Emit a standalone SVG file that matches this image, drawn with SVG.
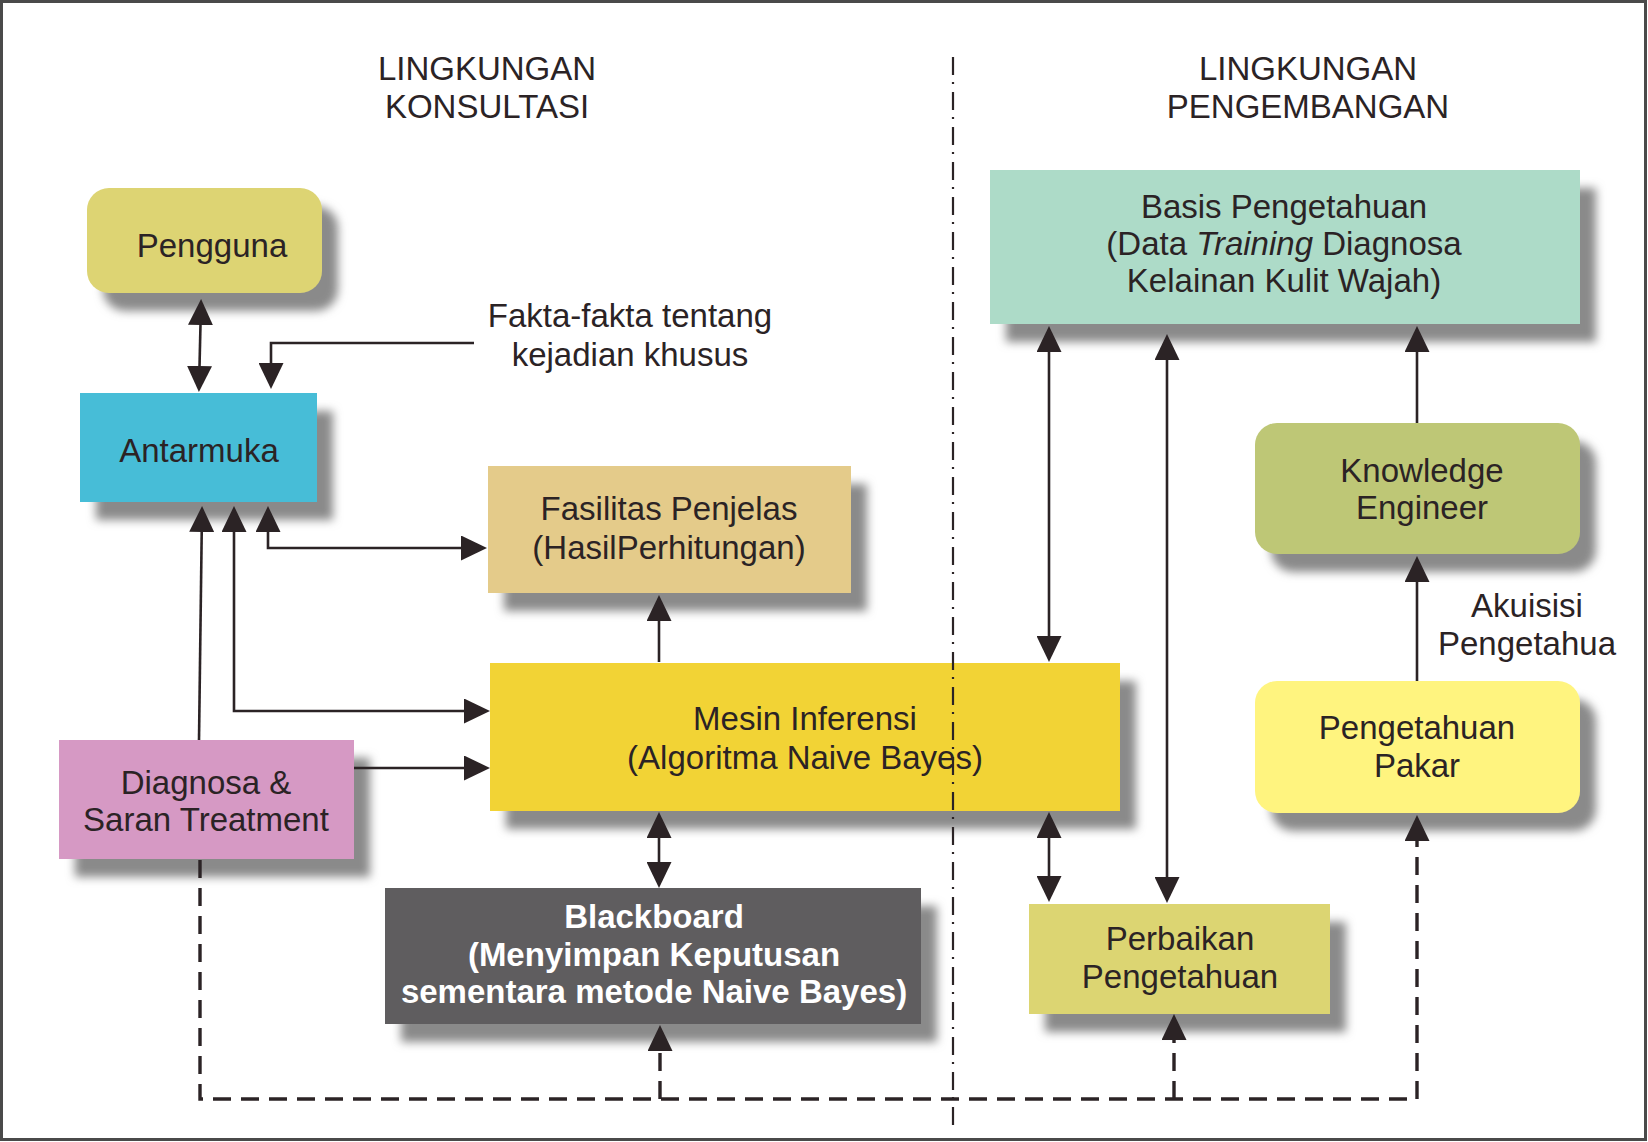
<svg xmlns="http://www.w3.org/2000/svg" width="1648" height="1142" viewBox="0 0 1648 1142">
<style>
text{font-family:"Liberation Sans",Arial,Helvetica,sans-serif;font-size:33px;fill:#2b2325;text-anchor:middle}
.w{fill:#ffffff;font-weight:bold}
.ln{fill:none;stroke:#2b2325;stroke-width:2.6}
.dash{fill:none;stroke:#2b2325;stroke-width:3.4;stroke-dasharray:18 10}
.a{marker-end:url(#ah)}
.aa{marker-end:url(#ah);marker-start:url(#ah)}
.node{filter:url(#sh)}
</style>
<defs>
<filter id="sh" x="-10%" y="-10%" width="130%" height="140%">
<feGaussianBlur in="SourceAlpha" stdDeviation="5"/>
<feOffset dx="16" dy="18" result="b"/>
<feFlood flood-color="#8a8a8a"/>
<feComposite in2="b" operator="in"/>
<feMerge><feMergeNode/><feMergeNode in="SourceGraphic"/></feMerge>
</filter>
<marker id="ah" viewBox="0 0 26 25" markerUnits="userSpaceOnUse" markerWidth="26" markerHeight="25" refX="22" refY="12.5" orient="auto-start-reverse">
<path d="M0,0 L26,12.5 L0,25 z" fill="#2b2325"/>
</marker>
</defs>
<rect x="1.5" y="1.5" width="1644" height="1138" fill="#ffffff" stroke="#4a4a4a" stroke-width="3"/>

<g id="titles">
<text x="487" y="80">LINGKUNGAN</text>
<text x="487" y="118">KONSULTASI</text>
<text x="1308" y="80">LINGKUNGAN</text>
<text x="1308" y="118">PENGEMBANGAN</text>
</g>

<g id="pengguna"><rect class="node" x="87" y="188" width="235" height="105" rx="22" fill="#ddd473"/><text x="212" y="257">Pengguna</text></g>
<g id="antarmuka"><rect class="node" x="80" y="393" width="237" height="109" fill="#47bdd7"/><text x="199" y="462">Antarmuka</text></g>
<g id="fasilitas"><rect class="node" x="488" y="466" width="363" height="127" fill="#e4cb8a"/><text x="669" y="520">Fasilitas Penjelas</text><text x="669" y="559">(HasilPerhitungan)</text></g>
<g id="mesin"><rect class="node" x="490" y="663" width="630" height="148" fill="#f2d336"/><text x="805" y="730">Mesin Inferensi</text><text x="805" y="769">(Algoritma Naive Bayes)</text></g>
<g id="diagnosa"><rect class="node" x="59" y="740" width="295" height="119" fill="#d699c4"/><text x="206" y="794">Diagnosa &amp;</text><text x="206" y="831">Saran Treatment</text></g>
<g id="blackboard"><rect class="node" x="385" y="888" width="536" height="136" fill="#5f5d5e"/><text class="w" x="654" y="928">Blackboard</text><text class="w" x="654" y="966">(Menyimpan Keputusan</text><text class="w" x="654" y="1003">sementara metode Naive Bayes)</text></g>
<g id="basis"><rect class="node" x="990" y="170" width="590" height="154" fill="#addbc8"/><text x="1284" y="218">Basis Pengetahuan</text><text x="1284" y="255">(Data <tspan font-style="italic">Training</tspan> Diagnosa</text><text x="1284" y="292">Kelainan Kulit Wajah)</text></g>
<g id="knowledge-engineer"><rect class="node" x="1255" y="423" width="325" height="131" rx="22" fill="#bec776"/><text x="1422" y="482">Knowledge</text><text x="1422" y="519">Engineer</text></g>
<g id="pakar"><rect class="node" x="1255" y="681" width="325" height="132" rx="22" fill="#fff47f"/><text x="1417" y="739">Pengetahuan</text><text x="1417" y="777">Pakar</text></g>
<g id="perbaikan"><rect class="node" x="1029" y="904" width="301" height="110" fill="#dcd572"/><text x="1180" y="950">Perbaikan</text><text x="1180" y="988">Pengetahuan</text></g>

<g id="labels">
<text x="630" y="327">Fakta-fakta tentang</text>
<text x="630" y="366">kejadian khusus</text>
<text x="1527" y="617">Akuisisi</text>
<text x="1527" y="655">Pengetahua</text>
</g>

<line id="divider" x1="953" y1="57" x2="953" y2="1128" stroke="#2b2325" stroke-width="2.2" stroke-dasharray="18 7 2 8"/>

<g id="connectors">
<line class="ln aa" x1="201" y1="303" x2="199" y2="388"/>
<path class="ln a" d="M474,343 H271 V385"/>
<path class="ln aa" d="M268,510 V548 H483"/>
<path class="ln aa" d="M234,510 V711 H486"/>
<line class="ln a" x1="199" y1="740" x2="202" y2="510"/>
<line class="ln a" x1="354" y1="768" x2="486" y2="768"/>
<line class="ln a" x1="659" y1="662" x2="659" y2="599"/>
<line class="ln aa" x1="659" y1="816" x2="659" y2="884"/>
<line class="ln aa" x1="1049" y1="330" x2="1049" y2="658"/>
<line class="ln aa" x1="1167" y1="338" x2="1167" y2="899"/>
<line class="ln aa" x1="1049" y1="816" x2="1049" y2="898"/>
<line class="ln a" x1="1417" y1="423" x2="1417" y2="330"/>
<line class="ln a" x1="1417" y1="681" x2="1417" y2="560"/>
<path class="dash a" d="M200,860 V1099 H1417 V819"/>
<path class="dash a" d="M660,1099 V1029"/>
<path class="dash a" d="M1174,1099 V1018"/>
</g>
</svg>
